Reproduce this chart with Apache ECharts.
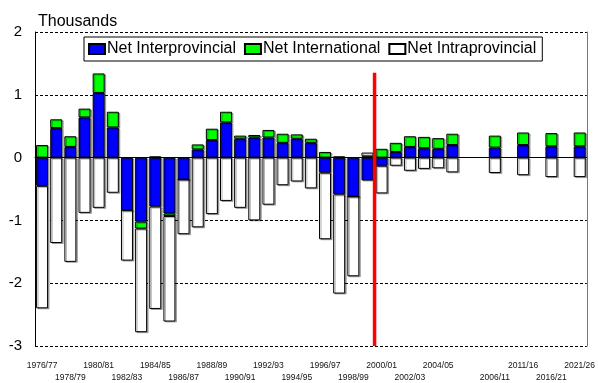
<!DOCTYPE html>
<html><head><meta charset="utf-8">
<script src="https://cdn.jsdelivr.net/npm/echarts@6/dist/echarts.min.js"></script>
<style>html,body{margin:0;padding:0;background:#fff}#c{width:598px;height:383px}</style>
</head><body><div id="c"></div>
<script>
const categories = ['1976/77','1977/78','1978/79','1979/80','1980/81','1981/82','1982/83','1983/84','1984/85','1985/86',
  '1986/87','1987/88','1988/89','1989/90','1990/91','1991/92','1992/93','1993/94','1994/95','1995/96',
  '1996/97','1997/98','1998/99','1999/00','2000/01','2001/02','2002/03','2003/04','2004/05','2005/06',
  'gap1','gap2','2006/11','gap3','2011/16','gap4','2016/21','gap5','2021/26'];
const labelsTopRow = ['1976/77','1980/81','1984/85','1988/89','1992/93','1996/97','2000/01','2004/05','2011/16','2021/26'];
const labelsBottomRow = ['1978/79','1982/83','1986/87','1990/91','1994/95','1998/99','2002/03','2006/11','2016/21'];
const netInterprovincial = [-0.45,0.47,0.17,0.64,1.03,0.48,-0.84,-1.02,-0.78,-0.89,
  -0.35,0.13,0.28,0.56,0.30,0.32,0.32,0.235,0.30,0.235,
  -0.24,-0.585,-0.62,-0.365,-0.13,0.09,0.17,0.15,0.14,0.20,
  null,null,0.16,null,0.20,null,0.18,null,0.18];
const netInternational = [0.20,0.14,0.17,0.14,0.31,0.25,0,-0.11,0.02,-0.04,
  0,0.08,0.18,0.17,0.05,0.04,0.12,0.145,0.07,0.065,
  0.09,0.02,0,0.02,0.14,0.145,0.17,0.18,0.17,0.18,
  null,null,0.19,null,0.20,null,0.21,null,0.22];
const netIntraprovincial = [-1.95,-1.36,-1.66,-0.88,-0.80,-0.56,-0.80,-1.65,-1.63,-1.68,
  -0.87,-1.11,-0.90,-0.69,-0.80,-1.00,-0.75,-0.44,-0.38,-0.49,
  -1.06,-1.58,-1.27,0.06,-0.44,-0.13,-0.21,-0.18,-0.17,-0.235,
  null,null,-0.245,null,-0.28,null,-0.31,null,-0.31];
const yTicks = {min: -3, max: 2, interval: 1};
const projectionStart = 24;   // boundary before 2000/01, in category units
const projectionLineTop = 1.35;

const labelled = v => labelsTopRow.includes(v) || labelsBottomRow.includes(v);
const chart = echarts.init(document.getElementById('c'), null, {renderer: 'canvas'});
const barShadow = {shadowBlur: 0, shadowOffsetX: 1.5, shadowOffsetY: 1, shadowColor: 'rgba(0,0,0,0.3)'};
chart.setOption({
  animation: false,
  textStyle: {fontFamily: 'Liberation Sans, Arial, sans-serif', color: '#000'},
  title: {text: 'Thousands', left: 33, top: 9, textStyle: {fontSize: 16, fontWeight: 'normal', color: '#000', fontFamily: 'Liberation Sans, Arial, sans-serif'}},
  legend: {
    data: ['Net Interprovincial', 'Net International', 'Net Intraprovincial'],
    icon: 'rect',
    left: 84, top: 37, padding: [4, 6, 4, 4], itemGap: 8, itemWidth: 16, itemHeight: 10,
    borderColor: '#000', borderWidth: 1, backgroundColor: '#fff',
    textStyle: {fontSize: 16, color: '#000', padding: [0, 0, 0, -3], fontFamily: 'Liberation Sans, Arial, sans-serif'}
  },
  grid: {left: 35, right: 6, top: 32, bottom: 32},
  xAxis: [
    {type: 'category', data: categories, position: 'bottom', boundaryGap: true,
     axisLine: {lineStyle: {color: '#000', width: 1}},
     axisTick: {alignWithLabel: true, interval: 0, length: 4, lineStyle: {color: '#000'}},
     axisLabel: {interval: 0, margin: 14, fontSize: 8.5, lineHeight: 11.5, color: '#111',
       formatter: v => labelsTopRow.includes(v) ? v : (labelsBottomRow.includes(v) ? '\n' + v : '')}},
    {type: 'category', data: categories, position: 'bottom', boundaryGap: true,
     axisLine: {show: false},
     axisTick: {alignWithLabel: true, interval: (i, v) => labelled(v), length: 7, lineStyle: {color: '#000'}},
     axisLabel: {show: false}},
    {type: 'value', min: 0, max: categories.length, show: false}
  ],
  yAxis: [
    {type: 'value', min: yTicks.min, max: yTicks.max, interval: yTicks.interval,
     axisLine: {show: true, lineStyle: {color: '#000'}}, axisTick: {show: false},
     axisLabel: {fontSize: 15, margin: 13, color: '#000'},
     splitLine: {lineStyle: {color: '#000', type: [3, 2], width: 1}}},
    {type: 'value', min: yTicks.min, max: yTicks.max, interval: yTicks.interval, position: 'right',
     axisLine: {show: true, lineStyle: {color: '#777'}}, axisTick: {show: false},
     axisLabel: {show: false}, splitLine: {show: false}}
  ],
  series: [
    {name: 'Net Interprovincial', type: 'bar', stack: 'm', data: netInterprovincial, barWidth: 12,
     itemStyle: Object.assign({color: '#0000ff', borderColor: '#000', borderWidth: 1}, barShadow)},
    {name: 'Net International', type: 'bar', stack: 'm', data: netInternational, barWidth: 12,
     itemStyle: Object.assign({color: '#00ff00', borderColor: '#000', borderWidth: 1}, barShadow)},
    {name: 'Net Intraprovincial', type: 'bar', stack: 'm', data: netIntraprovincial, barWidth: 12,
     itemStyle: Object.assign({color: '#fff', borderColor: '#000', borderWidth: 1}, barShadow),
     markLine: {silent: true, symbol: ['none', 'none'], label: {show: false},
       lineStyle: {color: '#000', type: 'solid', width: 1}, data: [{yAxis: 0}]}},
    {name: 'projection', type: 'line', xAxisIndex: 2, yAxisIndex: 0, symbol: 'none', z: 5,
     lineStyle: {color: '#ff0000', width: 3.5}, data: [[projectionStart, yTicks.min], [projectionStart, projectionLineTop]]}
  ]
});
</script></body></html>
